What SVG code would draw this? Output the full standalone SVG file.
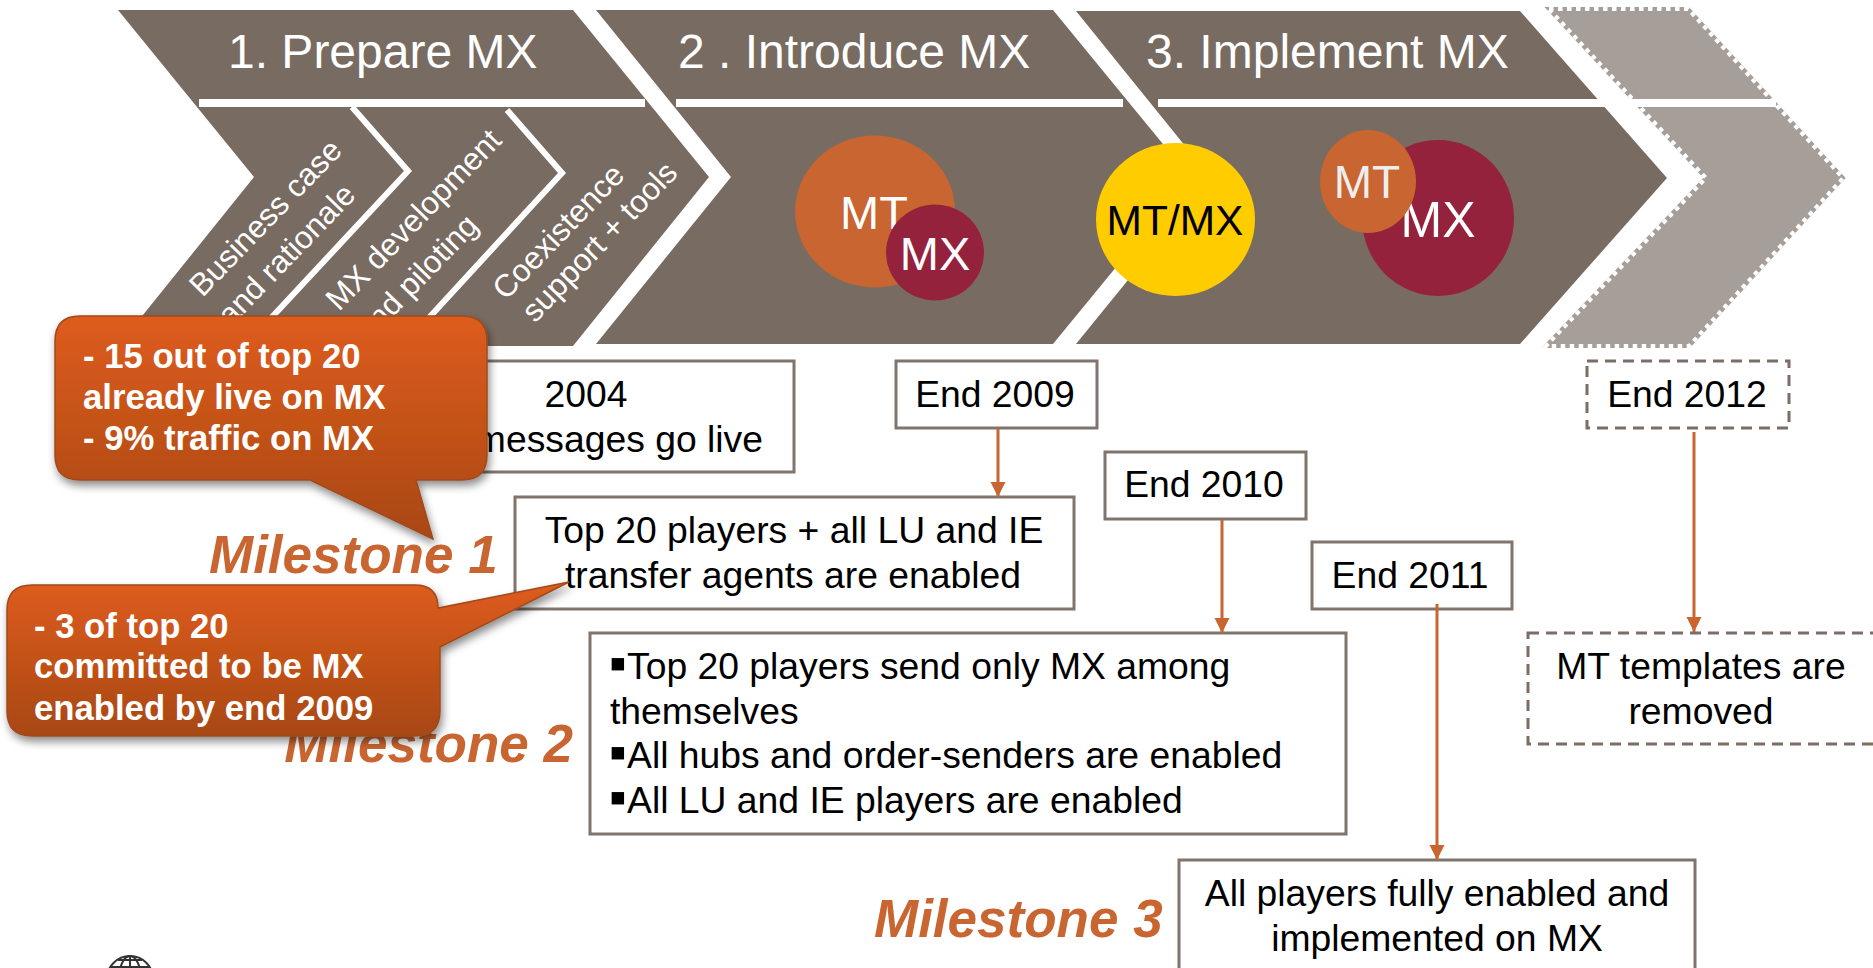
<svg xmlns="http://www.w3.org/2000/svg" width="1873" height="968" viewBox="0 0 1873 968">
<style>
text{font-family:"Liberation Sans",Arial,sans-serif}
.chev{fill:#786B62}
.band{fill:#fff}
.head{font-size:48px;fill:#fff}
.side{font-size:31.500px;fill:#fff;text-anchor:middle}
.box{fill:#fff;stroke:#80746C;stroke-width:3}
.dash{fill:#fff;stroke:#7A6E66;stroke-width:3;stroke-dasharray:11 7}
.t{font-size:37.300px;fill:#000}
.b{font-size:50px;fill:#000}
.m{text-anchor:middle}
.ms{font-size:53px;font-weight:bold;font-style:italic;fill:#C96530}
.cw{font-size:34.700px;font-weight:bold;fill:#fff}
.call{fill:url(#cg);stroke:#A04A1C;stroke-width:1.500;filter:url(#sh)}
.conn{stroke:#C96530;stroke-width:3;fill:none;marker-end:url(#ah)}
.wl{fill:none;stroke:#fff;stroke-width:6}
</style>
<defs>
<linearGradient id="cg" x1="0" y1="0" x2="0" y2="1"><stop offset="0" stop-color="#DE5C1C"/><stop offset="1" stop-color="#A84815"/></linearGradient>
<filter id="sh" x="-10%" y="-10%" width="120%" height="125%"><feDropShadow dx="2" dy="5" stdDeviation="4" flood-color="#000" flood-opacity=".45"/></filter>
<marker id="ah" markerUnits="userSpaceOnUse" markerWidth="16" markerHeight="16" refX="15" refY="8" orient="auto"><path d="M0 0.500L15 8L0 15.500z" fill="#C96530"/></marker>
</defs>
<rect width="1873" height="968" fill="#fff"/>
<g id="stage4">
<path d="M1549 9H1688L1843 178L1689 346H1546L1706 178z" fill="#A69E98" stroke="#A69E98" stroke-width="4"/>
<path d="M1549 9H1688L1843 178L1689 346H1546L1706 178z" fill="none" stroke="#fff" stroke-width="4" stroke-dasharray="4.500 4.500"/>
<rect class="band" x="1600" y="99" width="176" height="8"/>
</g>
<g id="stage3">
<path class="chev" d="M1076 11H1520L1667 178L1520 344H1076L1211 178z"/>
<rect class="band" x="1158" y="99" width="450" height="8"/>
<text class="head" x="1146" y="68">3. Implement MX</text>
</g>
<g id="stage2">
<path class="chev" d="M596 10H1053L1190 177L1053 344H596L731 177z"/>
<rect class="band" x="676" y="99" width="447" height="8"/>
<text class="head" x="678" y="68">2 . Introduce MX</text>
</g>
<g id="stage1">
<path class="chev" d="M118 10H573L709 177L573 346H118L254 177z"/>
<rect class="band" x="199" y="99" width="446" height="8"/>
<path class="wl" d="M352 107L408 171L245 346"/>
<path class="wl" d="M507 110L562 173L403 346"/>
<text class="head" x="228" y="68">1. Prepare MX</text>
<text class="side" transform="translate(273 225) rotate(-46)">Business case</text>
<text class="side" transform="translate(294 262) rotate(-46)">and rationale</text>
<text class="side" transform="translate(421 227) rotate(-46)">MX development</text>
<text class="side" transform="translate(424 285) rotate(-46)">and piloting</text>
<text class="side" transform="translate(566 239) rotate(-46)">Coexistence</text>
<text class="side" transform="translate(607 249) rotate(-46)">support + tools</text>
</g>
<g id="circle-mt-mx1">
<ellipse cx="875" cy="211.500" rx="80" ry="76" fill="#C96530"/>
<text x="874" y="229" font-size="47" fill="#fff" text-anchor="middle">MT</text>
<ellipse cx="935" cy="252.500" rx="49" ry="48" fill="#95223D"/>
<text x="935" y="270" font-size="47" fill="#fff" text-anchor="middle">MX</text>
</g>
<g id="circle-mtmx">
<ellipse cx="1175.500" cy="219.500" rx="79.500" ry="76.500" fill="#FFCC00"/>
<text x="1175" y="235" font-size="42.500" fill="#000" text-anchor="middle">MT/MX</text>
</g>
<g id="circle-mt-mx2">
<ellipse cx="1438" cy="218" rx="76" ry="78" fill="#95223D"/>
<text x="1438" y="237" font-size="50" fill="#fff" text-anchor="middle">MX</text>
<ellipse cx="1368" cy="181.500" rx="48" ry="51.500" fill="#C96530"/>
<text x="1367" y="198" font-size="46" fill="#EEE" text-anchor="middle">MT</text>
</g>
<g id="box-2004">
<rect class="box" x="470" y="361" width="324" height="111"/>
<text class="t m" x="586" y="407">2004</text>
<text class="t" x="763" y="452" text-anchor="end">messages go live</text>
</g>
<g id="box-end2009"><rect class="box" x="896" y="361" width="201" height="67"/><text class="t m" x="995" y="407">End 2009</text></g>
<g id="box-end2010"><rect class="box" x="1105" y="452" width="201" height="67"/><text class="t m" x="1204" y="497">End 2010</text></g>
<g id="box-end2011"><rect class="box" x="1312" y="542" width="200" height="67"/><text class="t m" x="1410" y="588">End 2011</text></g>
<g id="box-end2012"><rect class="dash" x="1587" y="361" width="202" height="67"/><text class="t m" x="1687" y="407">End 2012</text></g>
<g id="box-m1">
<rect class="box" x="515" y="497" width="559" height="112"/>
<text class="t m" x="794" y="543">Top 20 players + all LU and IE</text>
<text class="t m" x="793" y="588">transfer agents are enabled</text>
</g>
<g id="box-m2">
<rect class="box" x="590" y="633" width="756" height="201"/>
<text class="b" x="609" y="680">▪</text>
<text class="t" x="627" y="679">Top 20 players send only MX among</text>
<text class="t" x="610" y="724">themselves</text>
<text class="b" x="609" y="769">▪</text>
<text class="t" x="627" y="768">All hubs and order-senders are enabled</text>
<text class="b" x="609" y="814">▪</text>
<text class="t" x="627" y="813">All LU and IE players are enabled</text>
</g>
<g id="box-m3">
<rect class="box" x="1179" y="860" width="516" height="120"/>
<text class="t m" x="1437" y="906">All players fully enabled and</text>
<text class="t m" x="1437" y="951">implemented on MX</text>
</g>
<g id="box-removed">
<rect class="dash" x="1528" y="633" width="360" height="111"/>
<text class="t m" x="1701" y="679">MT templates are</text>
<text class="t m" x="1701" y="724">removed</text>
</g>
<g id="connectors">
<path class="conn" d="M998 429V497"/>
<path class="conn" d="M1222 520V633"/>
<path class="conn" d="M1437 604V860"/>
<path class="conn" d="M1694 432V632"/>
</g>
<g id="milestones">
<text class="ms" x="209" y="573">Milestone 1</text>
<text class="ms" x="573" y="762" text-anchor="end">Milestone 2</text>
<text class="ms" x="874" y="937">Milestone 3</text>
</g>
<g id="callout1">
<path class="call" d="M80 316H462Q487 316 487 341V455Q487 480 462 480H416L433 539L310 480H80Q55 480 55 455V341Q55 316 80 316z"/>
<text class="cw" x="83" y="368">- 15 out of top 20</text>
<text class="cw" x="83" y="409">already live on MX</text>
<text class="cw" x="83" y="450">- 9% traffic on MX</text>
</g>
<g id="callout2">
<path class="call" d="M32 585H415Q438 585 438 608L569 582L440 647V711Q440 736 415 736H32Q7 736 7 711V610Q7 585 32 585z"/>
<text class="cw" x="34" y="638">- 3 of top 20</text>
<text class="cw" x="34" y="678">committed to be MX</text>
<text class="cw" x="34" y="720">enabled by end 2009</text>
</g>
<g id="globe" fill="none" stroke="#333" stroke-width="2">
<circle cx="130" cy="979" r="23"/>
<ellipse cx="130" cy="979" rx="11" ry="23"/>
<path d="M130 956V968M111 967H149M118 960H142"/>
</g>
</svg>
